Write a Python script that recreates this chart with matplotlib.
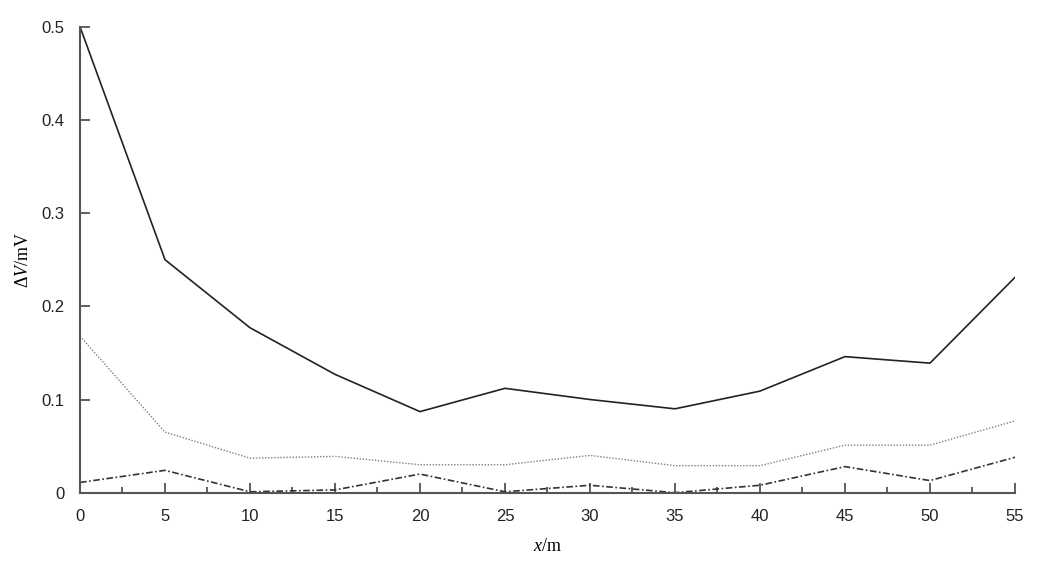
import numpy as np
import matplotlib.pyplot as plt
from matplotlib.ticker import MultipleLocator

# distance along the profile (m)
x = [0, 5, 10, 15, 20, 25, 30, 35, 40, 45, 50, 55]

# voltage difference curves (mV)
dv_solid = [0.500, 0.250, 0.177, 0.127, 0.087, 0.112, 0.100, 0.090, 0.109, 0.146, 0.139, 0.231]
dv_dotted = [0.168, 0.065, 0.037, 0.039, 0.030, 0.030, 0.040, 0.029, 0.029, 0.051, 0.051, 0.077]
dv_dashdot = [0.011, 0.024, 0.001, 0.003, 0.020, 0.001, 0.008, 0.000, 0.008, 0.028, 0.013, 0.038]

plt.rcParams['font.family'] = ['Liberation Sans', 'DejaVu Sans']
plt.rcParams['mathtext.fontset'] = 'custom'
plt.rcParams['mathtext.it'] = 'Liberation Serif:italic'
plt.rcParams['mathtext.rm'] = 'Liberation Serif'

fig = plt.figure(figsize=(10.61, 5.62), dpi=100)
ax = fig.add_axes([0.0754, 0.1233, 0.8812, 0.8292])

ax.plot(x, dv_solid, '-', color='#222222', lw=1.2)
ax.plot(x, dv_dotted, linestyle=(0, (1, 1.2)), color='#808080', lw=1.0)
ax.plot(x, dv_dashdot, linestyle=(0, (4, 1.5, 1, 1.5)), color='#333333', lw=1.2)

ax.set_xlim(0, 55)
ax.set_ylim(0, 0.5)
ax.xaxis.set_major_locator(MultipleLocator(5))
ax.xaxis.set_minor_locator(MultipleLocator(2.5))
ax.set_yticks([0, 0.1, 0.2, 0.3, 0.4, 0.5])
ax.set_yticklabels(['0', '0.1', '0.2', '0.3', '0.4', '0.5'])

for s in ['top', 'right']:
    ax.spines[s].set_visible(False)
for s in ['left', 'bottom']:
    ax.spines[s].set_color('#555555')
    ax.spines[s].set_linewidth(1.5)

ax.tick_params(axis='both', which='major', direction='in', length=7, width=1.2,
               color='#444444', labelsize=12, labelcolor='#222222')
ax.tick_params(axis='x', which='major', pad=12)
ax.tick_params(axis='x', which='minor', direction='in', length=4, width=1.2, color='#444444')
ax.tick_params(axis='y', which='major', pad=11)

ax.set_xlabel(r'$x$/m', family=['Liberation Serif'], fontsize=13, labelpad=10)
ax.set_ylabel(r'$\Delta V$/mV', family=['Liberation Serif'], fontsize=13, labelpad=7)

fig.savefig('out.png', dpi=100)
